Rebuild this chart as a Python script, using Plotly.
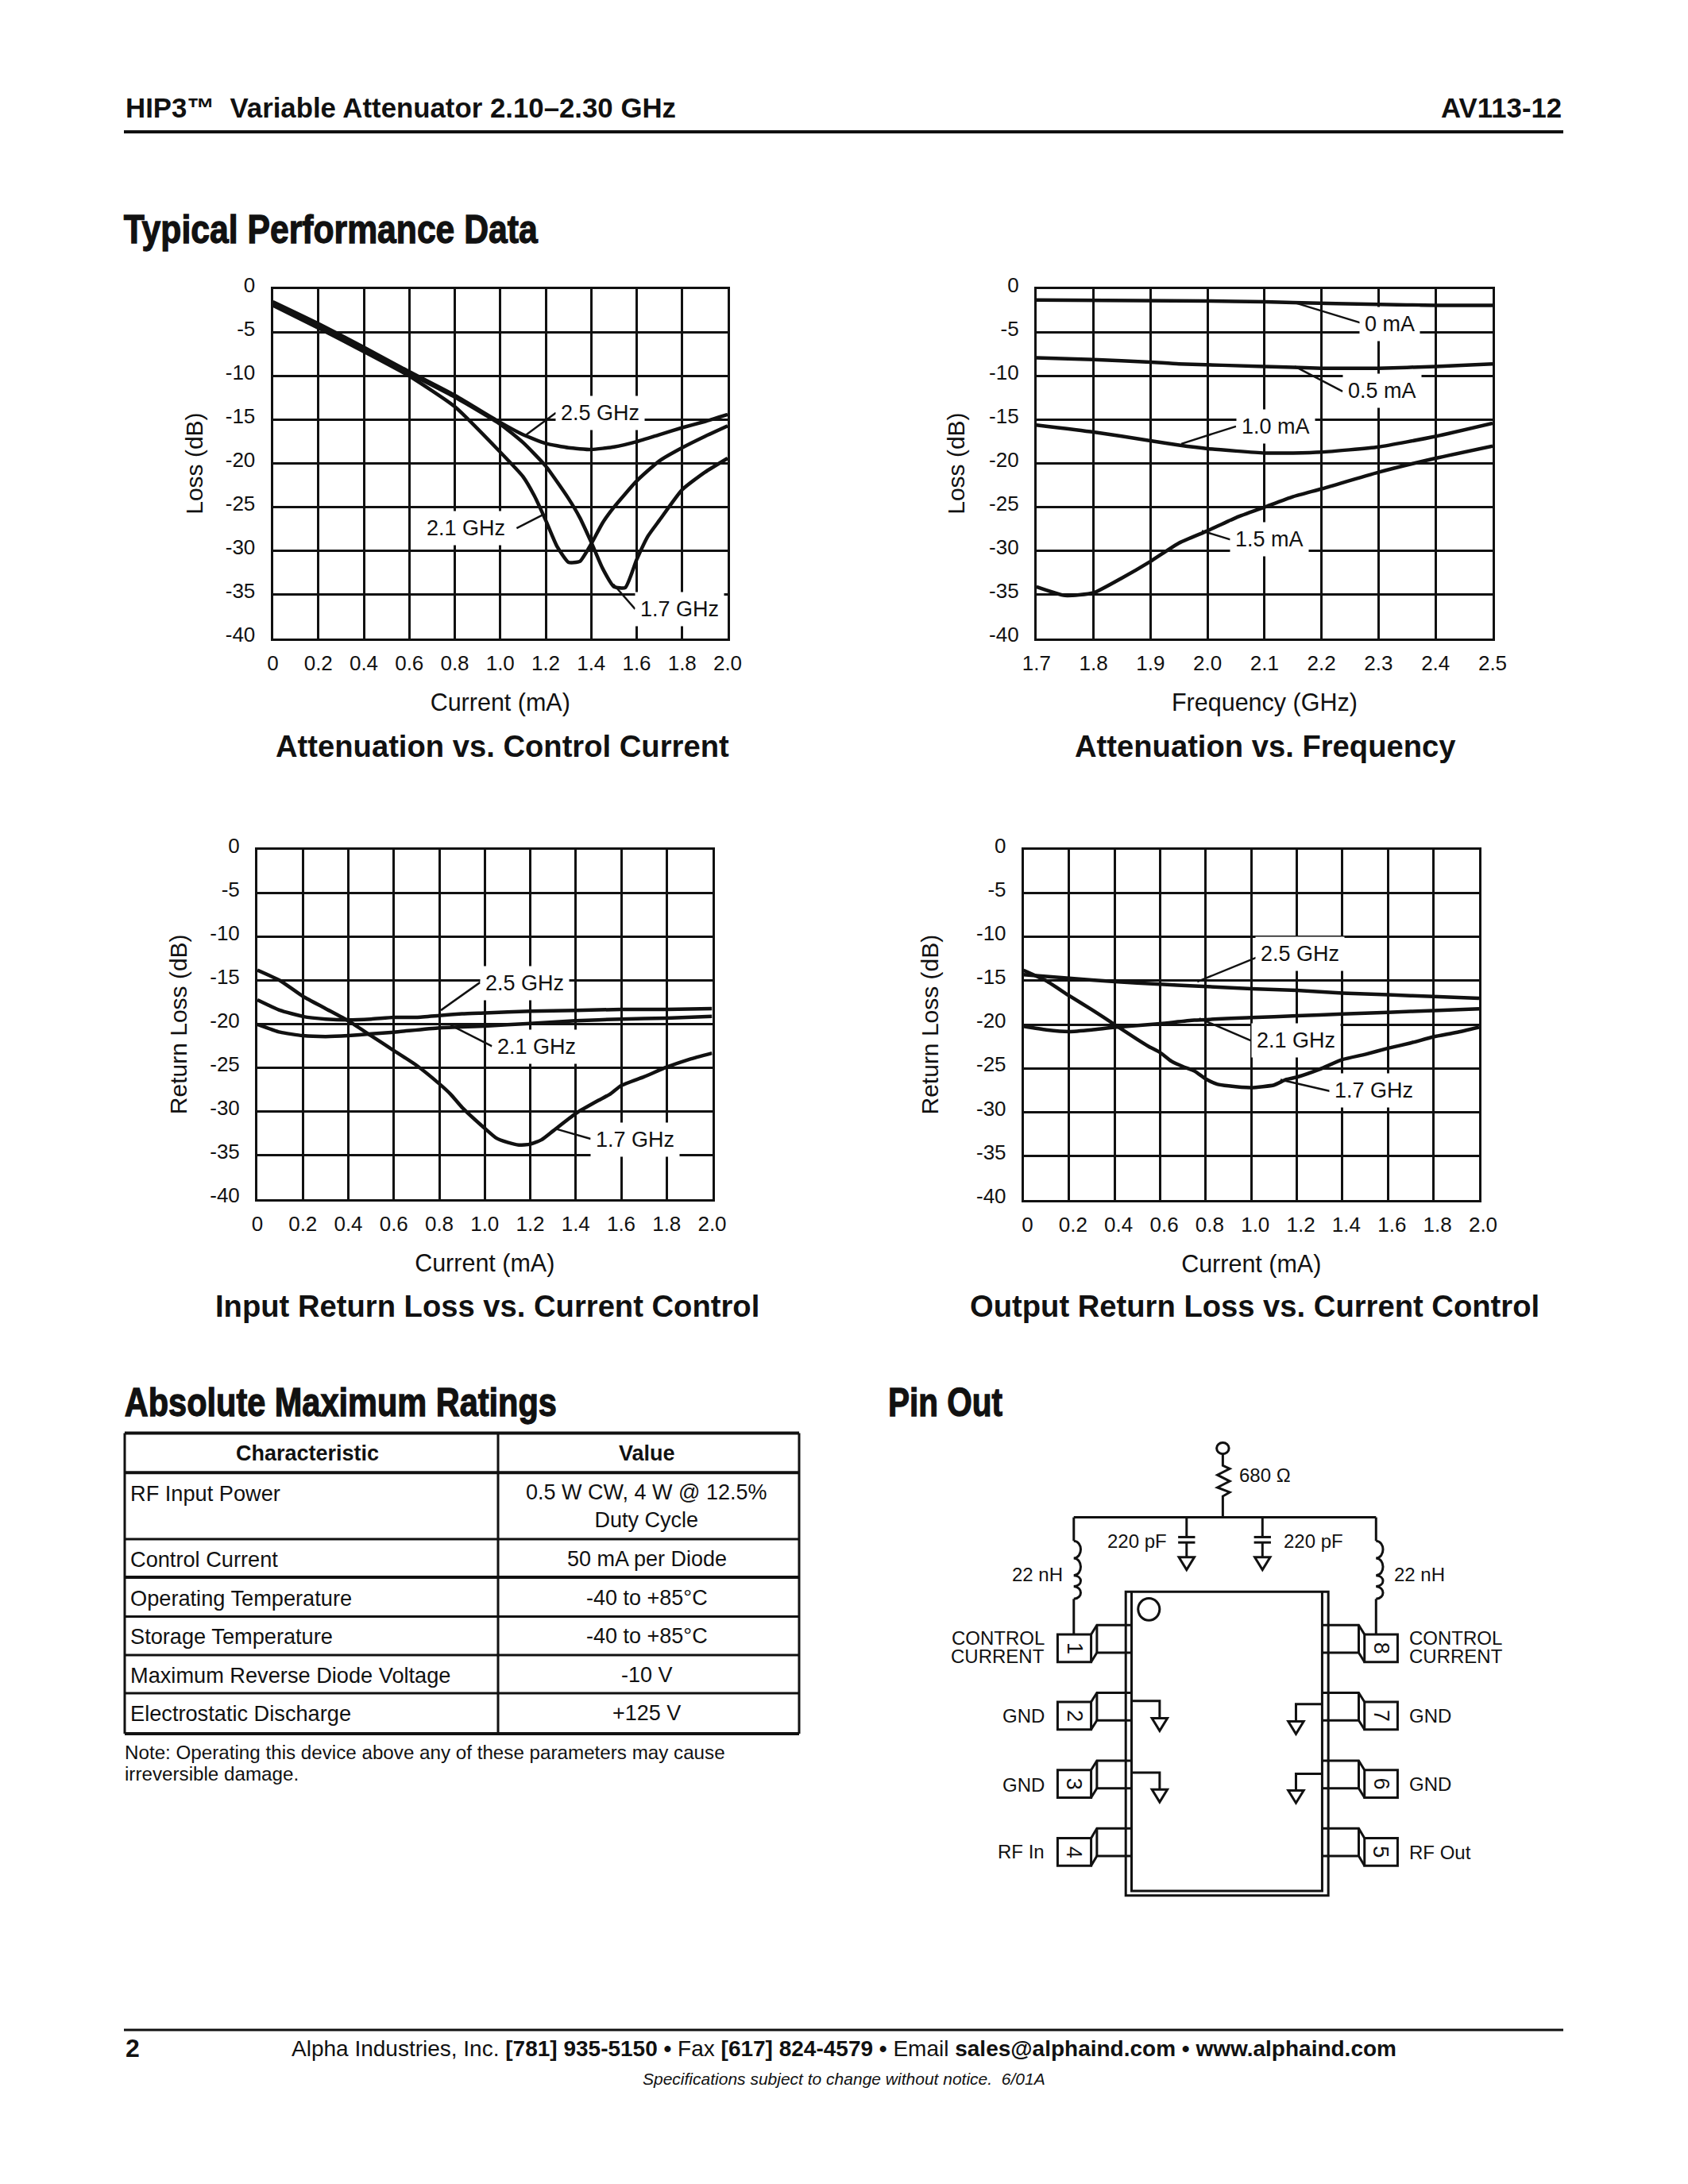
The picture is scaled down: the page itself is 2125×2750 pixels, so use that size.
import plotly.graph_objects as go

W, H = 2125, 2750
FONT = "Liberation Sans"
INK = "#111111"

# ---------- chart data ----------
current_a_25 = [0, .2, .4, .6, .8, 1.0, 1.1, 1.2, 1.3, 1.4, 1.5, 1.6, 1.7, 1.8, 1.9, 2.0]
loss_a_25 = [-1.5, -4, -6.7, -9.5, -12.2, -15.3, -16.7, -17.7, -18.2, -18.4, -18.1, -17.5, -16.7, -15.9, -15.2, -14.4]
current_a_21 = [0, .2, .4, .6, .8, 1.0, 1.1, 1.15, 1.2, 1.25, 1.3, 1.35, 1.4, 1.45, 1.5, 1.6, 1.7, 1.8, 1.9, 2.0]
loss_a_21 = [-1.9, -4.5, -7.2, -10, -13.5, -18.7, -21.5, -23.7, -26.5, -29.5, -31.3, -31.2, -29.2, -26.8, -25, -22, -19.7, -18.2, -16.9, -15.7]
current_a_17 = [0, .2, .4, .6, .8, 1.0, 1.1, 1.2, 1.3, 1.35, 1.4, 1.45, 1.5, 1.55, 1.6, 1.65, 1.7, 1.8, 1.9, 2.0]
loss_a_17 = [-1.7, -4.1, -6.9, -9.7, -12.4, -15.5, -17.6, -20.3, -24, -26.2, -29, -32, -34.1, -34.2, -31, -28.3, -26.5, -23, -21, -19.4]

freq_0 = [1.7, 2.0, 2.1, 2.15, 2.3, 2.4, 2.5]
loss_0 = [-1.3, -1.4, -1.5, -1.6, -1.8, -1.9, -1.9]
freq_05 = [1.7, 1.8, 1.9, 1.95, 2.1, 2.2, 2.3, 2.4, 2.5]
loss_05 = [-7.9, -8.1, -8.4, -8.6, -8.9, -9.1, -9.1, -8.9, -8.6]
freq_10 = [1.7, 1.8, 1.9, 1.95, 2.0, 2.1, 2.15, 2.2, 2.3, 2.4, 2.5]
loss_10 = [-15.6, -16.4, -17.4, -17.9, -18.3, -18.8, -18.8, -18.7, -18.1, -16.9, -15.4]
freq_15 = [1.7, 1.75, 1.8, 1.85, 1.9, 1.95, 2.0, 2.05, 2.1, 2.15, 2.2, 2.3, 2.4, 2.5]
loss_15 = [-34.1, -35.1, -34.8, -33.1, -31.2, -29.1, -27.7, -26.2, -25, -23.8, -22.9, -21, -19.4, -18]

current_i_17 = [0, .1, .2, .3, .4, .5, .6, .7, .8, .85, .9, 1.0, 1.05, 1.1, 1.15, 1.2, 1.25, 1.3, 1.4, 1.5, 1.55, 1.6, 1.7, 1.8, 1.9, 2.0]
rl_i_17 = [-13.8, -15, -16.8, -18.2, -19.6, -21.3, -23, -24.7, -26.8, -28, -29.5, -31.9, -33, -33.5, -33.8, -33.7, -33.2, -32.2, -30.2, -28.7, -28, -27, -26, -24.9, -24, -23.3]
current_i_25 = [0, .1, .2, .3, .4, .5, .6, .7, .8, .9, 1.0, 1.2, 1.4, 1.6, 1.8, 2.0]
rl_i_25 = [-17.2, -18.4, -19.1, -19.4, -19.5, -19.4, -19.2, -19.2, -19, -18.8, -18.7, -18.5, -18.4, -18.3, -18.3, -18.2]
current_i_21 = [0, .1, .2, .3, .4, .5, .6, .8, 1.0, 1.2, 1.4, 1.6, 1.8, 2.0]
rl_i_21 = [-20, -20.9, -21.3, -21.4, -21.3, -21.1, -20.9, -20.4, -20.2, -19.9, -19.6, -19.4, -19.3, -19.1]

current_o_17 = [0, .1, .2, .3, .4, .5, .55, .6, .65, .7, .75, .8, .85, .9, 1.0, 1.1, 1.15, 1.2, 1.3, 1.4, 1.5, 1.6, 1.7, 1.8, 1.9, 2.0]
rl_o_17 = [-13.8, -15, -16.7, -18.3, -20, -21.7, -22.5, -23.2, -24.2, -24.8, -25.3, -26.2, -26.8, -27, -27.2, -26.9, -26.3, -26, -25.1, -24, -23.4, -22.7, -22.1, -21.4, -20.9, -20.3]
current_o_25 = [0, .2, .4, .6, .75, 1.0, 1.2, 1.4, 1.6, 1.8, 2.0]
rl_o_25 = [-14.3, -14.7, -15.1, -15.4, -15.6, -15.9, -16.1, -16.4, -16.6, -16.8, -17]
current_o_21 = [0, .1, .2, .3, .4, .6, .75, 1.0, 1.2, 1.4, 1.6, 1.8, 2.0]
rl_o_21 = [-20.2, -20.6, -20.8, -20.6, -20.3, -19.9, -19.5, -19.2, -19, -18.8, -18.6, -18.4, -18.2]

current_ticks = [0, .2, .4, .6, .8, 1.0, 1.2, 1.4, 1.6, 1.8, 2.0]
current_labels = ["0", "0.2", "0.4", "0.6", "0.8", "1.0", "1.2", "1.4", "1.6", "1.8", "2.0"]
freq_ticks = [1.7, 1.8, 1.9, 2.0, 2.1, 2.2, 2.3, 2.4, 2.5]
freq_labels = ["1.7", "1.8", "1.9", "2.0", "2.1", "2.2", "2.3", "2.4", "2.5"]
db_ticks = [0, -5, -10, -15, -20, -25, -30, -35, -40]
db_labels = ["0", "-5", "-10", "-15", "-20", "-25", "-30", "-35", "-40"]

charts = [
    dict(rect=(343.5, 363.5, 916, 803.7), xr=(0, 2), xt=current_ticks, xl=current_labels,
         xtitle="Current (mA)", ytitle="Loss (dB)", title="Attenuation vs. Control Current", tc=(632, 939),
         shift=0, ws=3, ystand=20,
         series=[(current_a_25, loss_a_25), (current_a_21, loss_a_21), (current_a_17, loss_a_17)],
         labels=[("2.5 GHz", 1.44, -14.2), ("2.1 GHz", .85, -27.4), ("1.7 GHz", 1.788, -36.7)],
         leaders=[((1.245, 1.115), (-14.2, -16.7)), ((1.072, 1.193), (-27.4, -25.8)), ((1.593, 1.497), (-36.65, -33.8))]),
    dict(rect=(1304.8, 363.5, 1879, 803.7), xr=(1.7, 2.5), xt=freq_ticks, xl=freq_labels,
         xtitle="Frequency (GHz)", ytitle="Loss (dB)", title="Attenuation vs. Frequency", tc=(1593, 939),
         shift=0, ws=3, ystand=22,
         series=[(freq_0, loss_0), (freq_05, loss_05), (freq_10, loss_10), (freq_15, loss_15)],
         labels=[("0 mA", 2.32, -4), ("0.5 mA", 2.306, -11.7), ("1.0 mA", 2.12, -15.8), ("1.5 mA", 2.108, -28.7)],
         leaders=[((2.268, 2.153), (-3.9, -1.6)), ((2.237, 2.153), (-11.75, -8.9)), ((2.05, 1.954), (-15.75, -17.75)), ((2.04, 1.99), (-28.7, -27.7))]),
    dict(rect=(324, 1069.5, 896.5, 1510), xr=(0, 2), xt=current_ticks, xl=current_labels,
         xtitle="Current (mA)", ytitle="Return Loss (dB)", title="Input Return Loss vs. Current Control", tc=(613, 1644),
         shift=0, ws=3, ystand=20,
         series=[(current_i_17, rl_i_17), (current_i_25, rl_i_25), (current_i_21, rl_i_21)],
         labels=[("2.5 GHz", 1.176, -15.3), ("2.1 GHz", 1.228, -22.6), ("1.7 GHz", 1.66, -33.2)],
         leaders=[((.98, .807), (-15.2, -18.4)), ((1.032, .85), (-22.5, -20.1)), ((1.466, 1.318), (-33.1, -32))]),
    dict(rect=(1288.5, 1069.5, 1862, 1510.7), xr=(0, 2), xt=current_ticks, xl=current_labels,
         xtitle="Current (mA)", ytitle="Return Loss (dB)", title="Output Return Loss vs. Current Control", tc=(1579, 1644),
         shift=5, ws=2.5, ystand=39,
         series=[(current_o_17, rl_o_17), (current_o_25, rl_o_25), (current_o_21, rl_o_21)],
         labels=[("2.5 GHz", 1.212, -11.9), ("2.1 GHz", 1.196, -21.8), ("1.7 GHz", 1.537, -27.5)],
         leaders=[((1.027, .763), (-12.3, -15.1)), ((1.009, .772), (-21.95, -19.3)), ((1.347, 1.128), (-27.6, -26.3))]),
]

# ---------- ratings table ----------
table_rows = [1804.4, 1854.3, 1938, 1986, 2035.4, 2084, 2132, 2183]
table_chars = ["RF Input Power", "Control Current", "Operating Temperature", "Storage Temperature",
               "Maximum Reverse Diode Voltage", "Electrostatic Discharge"]
table_values = ["0.5 W CW, 4 W @ 12.5%<br>Duty Cycle", "50 mA per Diode", "-40 to +85°C", "-40 to +85°C", "-10 V", "+125 V"]
table_char_y = [1880, 1963, 2012, 2060, 2109, 2157]
table_value_y = [1897, 1963, 2012, 2060, 2109, 2157]

headings = {"Typical Performance Data": (416.5, 289, 521),
            "Absolute Maximum Ratings": (429, 1766, 544),
            "Pin Out": (1190, 1766, 144)}


def px(x):
    return x / W


def py(y):
    return 1 - y / H


fig = go.Figure()
ann, shp = [], []


def text(x, y, s, size=27, anchor="center", bold=False, family=FONT, color=INK, angle=0, **kw):
    ann.append(dict(x=px(x), y=py(y), xref="paper", yref="paper", text=f"<b>{s}</b>" if bold else s,
                    showarrow=False, xanchor=anchor, yanchor="middle", textangle=angle,
                    font=dict(family=family, size=size, color=color), **kw))


def line(x0, y0, x1, y1, w=3):
    shp.append(dict(type="line", xref="paper", yref="paper", x0=px(x0), y0=py(y0), x1=px(x1), y1=py(y1),
                    line=dict(color=INK, width=w)))


def path(points, w=3, close=False, fill=None):
    d = "M " + " L ".join(f"{px(a):.5f},{py(b):.5f}" for a, b in points) + (" Z" if close else "")
    shp.append(dict(type="path", path=d, xref="paper", yref="paper", line=dict(color=INK, width=w),
                    fillcolor=fill if fill else "rgba(0,0,0,0)"))


# ---------- charts ----------
layout_axes = {}
for i, c in enumerate(charts, start=1):
    xa, ya = f"xaxis{i}", f"yaxis{i}"
    xr, yr = f"x{i}", f"y{i}"
    l, t, r, b = c["rect"]
    common = dict(showline=True, linecolor=INK, linewidth=c["ws"], mirror=True, showgrid=True, gridcolor=INK,
                  gridwidth=c["ws"], zeroline=False, ticks="", fixedrange=True,
                  tickfont=dict(family=FONT, size=26, color=INK))
    layout_axes[xa] = dict(common, domain=[px(l), px(r)], range=list(c["xr"]), anchor=yr, tickmode="array",
                           tickvals=c["xt"], ticktext=c["xl"], ticklabelshift=c["shift"], ticklabelstandoff=6,
                           title=dict(text=c["xtitle"], font=dict(family=FONT, size=30.5, color=INK), standoff=25))
    layout_axes[ya] = dict(common, domain=[py(b), py(t)], range=[-40, 0], anchor=xr, tickmode="array",
                           tickvals=db_ticks, ticktext=db_labels, ticklabelshift=-5, ticklabelstandoff=14,
                           title=dict(text=c["ytitle"], font=dict(family=FONT, size=30, color=INK), standoff=c["ystand"]))
    for xs, ys in c["leaders"]:
        fig.add_trace(go.Scatter(x=list(xs), y=list(ys), mode="lines", xaxis=xr, yaxis=yr, showlegend=False,
                                 hoverinfo="skip", line=dict(color=INK, width=2.5)))
    for xs, ys in c["series"]:
        fig.add_trace(go.Scatter(x=xs, y=ys, mode="lines", xaxis=xr, yaxis=yr, showlegend=False,
                                 line=dict(color=INK, width=4.5, shape="spline", smoothing=0.5)))
    for s, x, y in c["labels"]:
        ann.append(dict(x=x, y=y, xref=xr, yref=yr, text=s, showarrow=False, bgcolor="white", borderpad=6,
                        font=dict(family=FONT, size=27, color=INK)))
    text(c["tc"][0], c["tc"][1], c["title"], size=38.2, bold=True)

# ---------- page furniture ----------
text(156, 136, "HIP3™  Variable Attenuator 2.10–2.30 GHz", size=34.8, anchor="left", bold=True)
text(1968, 136, "AV113-12", size=34.8, anchor="right", bold=True)
line(156, 166, 1968, 166, 4)
for s, (cx, cy, tw) in headings.items():
    ann.append(dict(x=px(cx), y=py(cy), xref="paper", yref="paper", text=s, showarrow=False, xanchor="center",
                    yanchor="middle", font=dict(family=FONT, size=50, color=INK, weight=700)))
line(156, 2556, 1968, 2556, 3)
text(156, 2579, "2", size=32, anchor="left", bold=True)
text(1062, 2579, "Alpha Industries, Inc. <b>[781] 935-5150 • </b>Fax <b>[617] 824-4579 • </b>Email "
                 "<b>sales@alphaind.com • www.alphaind.com</b>", size=28)
text(1062, 2617, "<i>Specifications subject to change without notice.  6/01A</i>", size=21)

# ---------- table ----------
tl, tr, tm = 157, 1006, 627
for k, y in enumerate(table_rows):
    line(tl, y, tr, y, 4 if k in (0, 1, 3, 7) else 3)
line(tl, table_rows[0], tl, table_rows[-1], 3)
line(tr, table_rows[0], tr, table_rows[-1], 3)
line(tm, table_rows[0], tm, table_rows[-1], 3)
text(387, 1830, "Characteristic", size=27, bold=True)
text(814, 1830, "Value", size=27, bold=True)
for s, y in zip(table_chars, table_char_y):
    text(162, y, s, size=27.2, anchor="left")
for s, y in zip(table_values, table_value_y):
    text(814, y, s, size=27)
text(155, 2206, "Note: Operating this device above any of these parameters may cause", size=24.2, anchor="left")
text(155, 2233, "irreversible damage.", size=24.2, anchor="left")


# ---------- pin-out schematic (crop-space helper) ----------
def sx(v):
    return 1170 + v / 2.063


def sy(v):
    return 1790 + v / 2.53


def sline(*pts, w=3, close=False, fill=None):
    path([(sx(a), sy(b)) for a, b in pts], w=w, close=close, fill=fill)


def ground(x, y):
    sline((x - 20, y), (x + 20, y), (x, y + 40), close=True, fill="white")


def ellipse(cx, cy, rx, ry, w=3):
    shp.append(dict(type="circle", xref="paper", yref="paper", x0=px(sx(cx - rx)), x1=px(sx(cx + rx)),
                    y0=py(sy(cy - ry)), y1=py(sy(cy + ry)), line=dict(color=INK, width=w), fillcolor="white"))


def inductor(x):
    sline((x, 305), (x, 380))
    d = f"M {px(sx(x)):.5f},{py(sy(380)):.5f}"
    for a, b in [(380, 435), (435, 490), (490, 525), (525, 565)]:
        d += f" C {px(sx(x + 24)):.5f},{py(sy(a + 2)):.5f} {px(sx(x + 24)):.5f},{py(sy(b - 2)):.5f} {px(sx(x)):.5f},{py(sy(b)):.5f}"
    shp.append(dict(type="path", path=d, xref="paper", yref="paper", line=dict(color=INK, width=3),
                    fillcolor="rgba(0,0,0,0)"))
    sline((x, 565), (x, 678))


ellipse(762, 85, 16, 18)
sline((762, 103), (762, 140), (780, 150), (748, 170), (780, 190), (748, 210), (780, 225), (762, 238), (762, 305))
sline((375, 305), (1160, 305))
inductor(375)
inductor(1160)
for cx in (668, 865):
    sline((cx, 305), (cx, 368))
    sline((cx - 22, 368), (cx + 22, 368))
    sline((cx - 22, 385), (cx + 22, 385))
    sline((cx, 385), (cx, 432))
    ground(cx, 432)

sline((510, 542), (1036, 542), (1036, 1510), (510, 1510), close=True)
sline((525, 542), (525, 1495), (1020, 1495), (1020, 542))
ellipse(570, 598, 28, 35)

pin_tops = [678, 893, 1110, 1327]
lead_tops = [648, 864, 1080, 1296]
left_nums = ["1", "2", "3", "4"]
right_nums = ["8", "7", "6", "5"]
for bt, lt, ln, rn in zip(pin_tops, lead_tops, left_nums, right_nums):
    bb, lb = bt + 88, lt + 88
    sline((333, bt), (420, bt), (420, bb), (333, bb), close=True)
    sline((525, lt), (435, lt), (420, bt))
    sline((525, lb), (435, lb), (420, bb))
    sline((435, lt), (435, lb))
    sline((1130, bt), (1216, bt), (1216, bb), (1130, bb), close=True)
    sline((1020, lt), (1115, lt), (1130, bt))
    sline((1020, lb), (1115, lb), (1130, bb))
    sline((1115, lt), (1115, lb))
    text(sx(376), sy(bt + 44), ln, size=27, angle=90)
    text(sx(1173), sy(bt + 44), rn, size=27, angle=90)

for y0, y1 in [(890, 945), (1118, 1172)]:
    sline((525, y0), (598, y0), (598, y1))
    ground(598, y1)
for y0, y1 in [(900, 955), (1122, 1175)]:
    sline((1020, y0), (952, y0), (952, y1))
    ground(952, y1)

text(sx(800), sy(170), "680 Ω", size=24, anchor="left")
text(sx(620), sy(380), "220 pF", size=24, anchor="right")
text(sx(915), sy(380), "220 pF", size=24, anchor="left")
text(sx(350), sy(487), "22 nH", size=24, anchor="right")
text(sx(1203), sy(487), "22 nH", size=24, anchor="left")
text(sx(303), sy(690), "CONTROL", size=24, anchor="right")
text(sx(303), sy(748), "CURRENT", size=24, anchor="right")
text(sx(1242), sy(690), "CONTROL", size=24, anchor="left")
text(sx(1242), sy(748), "CURRENT", size=24, anchor="left")
text(sx(303), sy(937), "GND", size=24, anchor="right")
text(sx(303), sy(1158), "GND", size=24, anchor="right")
text(sx(1242), sy(938), "GND", size=24, anchor="left")
text(sx(1242), sy(1156), "GND", size=24, anchor="left")
text(sx(303), sy(1370), "RF In", size=24, anchor="right")
text(sx(1242), sy(1372), "RF Out", size=24, anchor="left")

fig.update_layout(width=W, height=H, margin=dict(l=0, r=0, t=0, b=0, pad=0, autoexpand=False),
                  paper_bgcolor="white", plot_bgcolor="white",
                  showlegend=False, annotations=ann, shapes=shp, **layout_axes)

widths_js = ",".join(f'"{s}":{v[2]}' for s, v in headings.items())
post = ("document.body.style.margin='0';document.documentElement.style.overflow='hidden';"
        "(function(){var m={" + widths_js + "};function f(){document.querySelectorAll('text.annotation-text')"
        ".forEach(function(e){var w=m[e.textContent];if(w){e.setAttribute('textLength',w);"
        "e.setAttribute('lengthAdjust','spacingAndGlyphs');e.style.stroke='#111';e.style.strokeWidth='1.3px';}});}"
        "f();setTimeout(f,100);setTimeout(f,500);})();")
fig.write_html("out.html", config=dict(displayModeBar=False), post_script=post)
